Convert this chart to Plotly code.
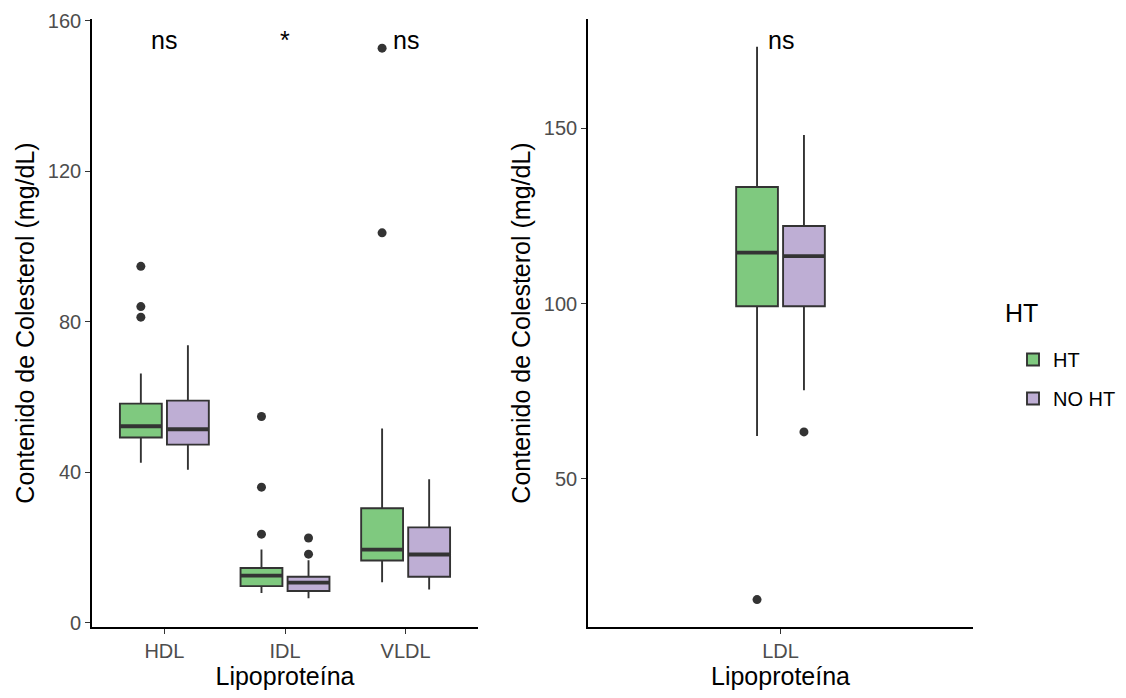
import plotly.graph_objects as go

# ---------------- data ----------------
groups = ["HT", "NO HT"]
fill_colors = ["#7FC97F", "#BEAED4"]

left_cats = ["HDL", "IDL", "VLDL"]
right_cats = ["LDL"]

# Left panel box statistics (HDL, IDL, VLDL)
ht_q1 = [49.2, 9.7, 16.5]
ht_med = [52.2, 12.5, 19.4]
ht_q3 = [58.2, 14.5, 30.4]
ht_lo = [42.5, 7.9, 10.7]
ht_hi = [66.2, 19.4, 51.6]
ht_out_x = ["HDL", "HDL", "HDL", "IDL", "IDL", "IDL", "VLDL", "VLDL"]
ht_out_y = [94.7, 84.0, 81.2, 54.8, 36.0, 23.5, 152.7, 103.6]

noht_q1 = [47.3, 8.4, 12.2]
noht_med = [51.4, 10.6, 18.1]
noht_q3 = [59.0, 12.2, 25.3]
noht_lo = [40.6, 6.5, 8.8]
noht_hi = [73.7, 16.6, 38.1]
noht_out_x = ["IDL", "IDL"]
noht_out_y = [22.5, 18.2]

# Right panel box statistics (LDL)
ldl_ht_q1 = [99.2]
ldl_ht_med = [114.5]
ldl_ht_q3 = [133.2]
ldl_ht_lo = [62.2]
ldl_ht_hi = [173.2]
ldl_ht_out_x = ["LDL"]
ldl_ht_out_y = [15.6]

ldl_noht_q1 = [99.2]
ldl_noht_med = [113.5]
ldl_noht_q3 = [122.1]
ldl_noht_lo = [75.3]
ldl_noht_hi = [148.0]
ldl_noht_out_x = ["LDL"]
ldl_noht_out_y = [63.4]

# significance labels
left_sig = ["ns", "*", "ns"]
left_sig_y = 154.8
right_sig = ["ns"]
right_sig_y = 175.0

y_title = "Contenido de Colesterol (mg/dL)"
x_title = "Lipoproteína"
legend_title = "HT"

# ---------------- styling ----------------
FONT = "Liberation Sans, Arial, sans-serif"
LINE_COL = "#333333"
BOX_LW = 1.9
MED_LW = 3.8

fig = go.Figure()


def add_group(xa, ya, cats, q1, med, q3, lo, hi, out_x, out_y, name, color, align, legend):
    # main box
    fig.add_trace(go.Box(
        x=cats, q1=q1, median=med, q3=q3, lowerfence=lo, upperfence=hi,
        name=name, legendgroup=name, showlegend=legend,
        fillcolor=color, line=dict(color=LINE_COL, width=BOX_LW),
        whiskerwidth=0, boxpoints=False,
        offsetgroup=name, alignmentgroup=align,
        xaxis=xa, yaxis=ya, hoverinfo="skip",
    ))
    # thicker median line (degenerate box at the median)
    fig.add_trace(go.Box(
        x=cats, q1=med, median=med, q3=med, lowerfence=med, upperfence=med,
        name=name, legendgroup=name, showlegend=False,
        fillcolor="rgba(0,0,0,0)", line=dict(color=LINE_COL, width=MED_LW),
        whiskerwidth=0, boxpoints=False,
        offsetgroup=name, alignmentgroup=align,
        xaxis=xa, yaxis=ya, hoverinfo="skip",
    ))
    # outliers
    if out_y:
        fig.add_trace(go.Box(
            x=out_x, y=out_y,
            name=name, legendgroup=name, showlegend=False,
            fillcolor="rgba(0,0,0,0)", line=dict(color="rgba(0,0,0,0)", width=0),
            whiskerwidth=0, boxpoints="all", jitter=0, pointpos=0,
            marker=dict(color=LINE_COL, size=9),
            offsetgroup=name, alignmentgroup=align,
            xaxis=xa, yaxis=ya, hoverinfo="skip",
        ))


add_group("x", "y", left_cats, ht_q1, ht_med, ht_q3, ht_lo, ht_hi,
          ht_out_x, ht_out_y, groups[0], fill_colors[0], "left", True)
add_group("x", "y", left_cats, noht_q1, noht_med, noht_q3, noht_lo, noht_hi,
          noht_out_x, noht_out_y, groups[1], fill_colors[1], "left", True)
add_group("x2", "y2", right_cats * len(ldl_ht_q1), ldl_ht_q1, ldl_ht_med, ldl_ht_q3,
          ldl_ht_lo, ldl_ht_hi, ldl_ht_out_x, ldl_ht_out_y, groups[0], fill_colors[0], "right", False)
add_group("x2", "y2", right_cats * len(ldl_noht_q1), ldl_noht_q1, ldl_noht_med, ldl_noht_q3,
          ldl_noht_lo, ldl_noht_hi, ldl_noht_out_x, ldl_noht_out_y, groups[1], fill_colors[1], "right", False)

# significance annotations
for cat, lab in zip(left_cats, left_sig):
    fig.add_annotation(x=cat, y=left_sig_y, xref="x", yref="y", text=lab,
                       showarrow=False, yanchor="middle",
                       font=dict(family=FONT, size=25, color="black"))
for cat, lab in zip(right_cats, right_sig):
    fig.add_annotation(x=cat, y=right_sig_y, xref="x2", yref="y2", text=lab,
                       showarrow=False, yanchor="middle",
                       font=dict(family=FONT, size=25, color="black"))

# The page body has an 8px margin, so the figure is 16px smaller than the window
W, H = 1110, 682
ML, MR, MT, MB = 84, 145, 11, 63
PW = W - ML - MR
PH = H - MT - MB

# legend title (as text next to the legend)
fig.add_annotation(x=(995 - ML) / PW, y=(H - MB - 305) / PH, xref="paper", yref="paper",
                   text=legend_title, showarrow=False, xanchor="left", yanchor="middle",
                   font=dict(family=FONT, size=25, color="black"))

axis_common = dict(
    showgrid=False, zeroline=False, showline=True, linecolor="black", linewidth=1.6,
    ticks="outside", ticklen=5, tickwidth=1.2, tickcolor=LINE_COL,
    tickfont=dict(family=FONT, size=20, color="#4D4D4D"),
    mirror=False,
)

fig.update_layout(
    width=W, height=H,
    margin=dict(l=ML, r=MR, t=MT, b=MB, autoexpand=False),
    paper_bgcolor="white", plot_bgcolor="white",
    boxmode="group", boxgap=0.22, boxgroupgap=0.11,
    font=dict(family=FONT, color="black"),
    xaxis=dict(**axis_common, domain=[0, (470 - ML) / PW], type="category",
               categoryorder="array", categoryarray=left_cats,
               range=[-0.6, len(left_cats) - 0.4],
               title=dict(text=x_title, font=dict(family=FONT, size=25, color="black"), standoff=2),
               anchor="y"),
    yaxis=dict(**axis_common, domain=[0, 1], range=[-1.17, 160.45],
               tickvals=[0, 40, 80, 120, 160],
               title=dict(text=y_title, font=dict(family=FONT, size=25, color="black"), standoff=6),
               anchor="x"),
    xaxis2=dict(**axis_common, domain=[(580 - ML) / PW, 1], type="category",
                categoryarray=right_cats, categoryorder="array",
                range=[-1.6, 1.6],
                title=dict(text=x_title, font=dict(family=FONT, size=25, color="black"), standoff=2),
                anchor="y2"),
    yaxis2=dict(**axis_common, domain=[0, 1], range=[7.78, 181.1],
                tickvals=[50, 100, 150],
                title=dict(text=y_title, font=dict(family=FONT, size=25, color="black"), standoff=6),
                anchor="x2"),
    legend=dict(
        font=dict(family=FONT, size=20, color="black"),
        x=(1005 - ML) / PW, xanchor="left",
        y=(H - MB - 332) / PH, yanchor="top",
        tracegroupgap=10, bgcolor="rgba(0,0,0,0)",
    ),
)

fig.write_html("out.html")
